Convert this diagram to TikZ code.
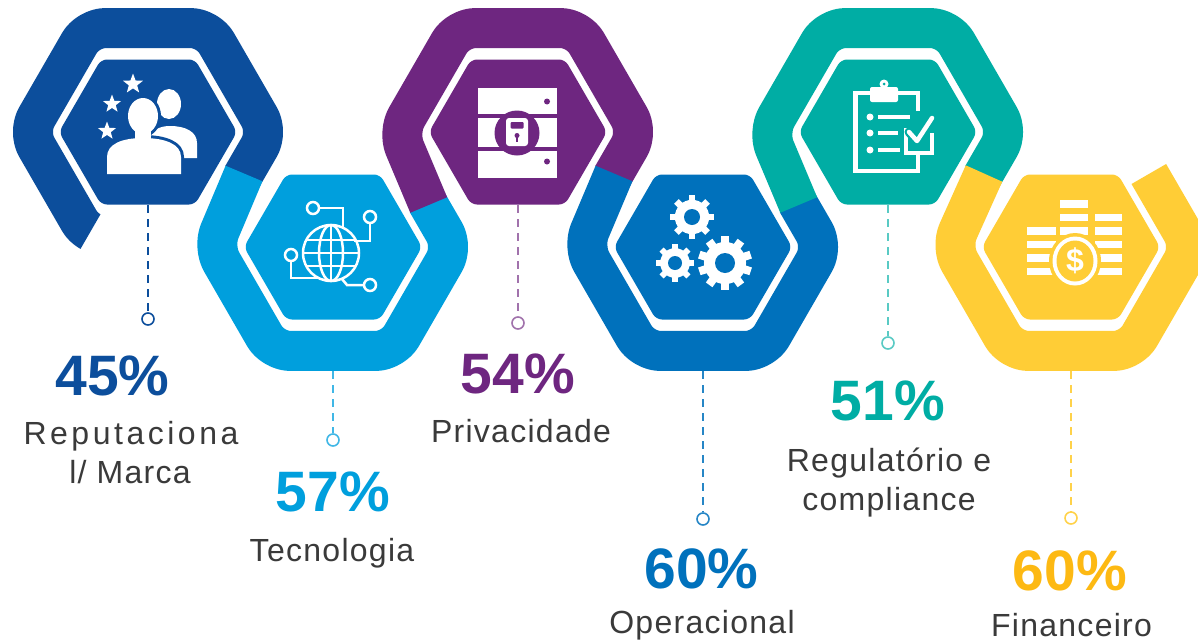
\documentclass[tikz,border=0pt]{standalone}
\usepackage{fontspec}
\setmainfont{Liberation Sans}
\usetikzlibrary{calc,shapes.geometric}
\definecolor{cA}{HTML}{0C4E9C}
\definecolor{cB}{HTML}{009FDD}
\definecolor{cC}{HTML}{6E2680}
\definecolor{cD}{HTML}{0071BC}
\definecolor{cE}{HTML}{00ADA4}
\definecolor{cF}{HTML}{FFCD36}
\definecolor{cFt}{HTML}{FDB913}
\definecolor{txt}{HTML}{3A3A3A}
\newcommand\innerhex[2]{\fill[#2,rounded corners=6pt] ($(#1)+(89,0)$) -- ($(#1)+(47,72.5)$) -- ($(#1)+(-47,72.5)$) -- ($(#1)+(-89,0)$) -- ($(#1)+(-47,-72.5)$) -- ($(#1)+(47,-72.5)$) -- cycle;}
\newcommand\mygear[5]{%
  \fill[white] (#1) circle ({0.78*#2});
  \foreach \k in {1,...,#4}{\fill[white, rotate around={360/#4*\k:(#1)}] ($(#1)+({-0.15*#2},{-#2})$) rectangle ($(#1)+({0.15*#2},0)$);}
  \fill[#5] (#1) circle (#3);}
\begin{document}
\begin{tikzpicture}[x=1pt,y=-1pt,
  band/.style={line width=40pt, line cap=butt, line join=round, rounded corners=17pt},
  dotc/.style={circle, draw=#1, fill=white, line width=1.6pt, minimum size=12pt, inner sep=0pt},
  lead/.style={draw=#1, line width=1.8pt, dash pattern=on 8pt off 6pt},
  pct/.style={text=#1, font=\bfseries\fontsize{57}{60}\selectfont, anchor=base, inner sep=0pt},
  lbl/.style={text=txt, font=\fontsize{32}{38}\selectfont\addfontfeature{LetterSpace=4}, anchor=base, inner sep=0pt},
  starn/.style={star, star points=5, star point ratio=2.4, fill=white, inner sep=0pt, minimum size=#1},
]
\fill[white] (0,0) rectangle (1198,643);
\useasboundingbox (0,0) rectangle (1198,643);

\coordinate (C1) at (148,132);
\coordinate (C2) at (333,247);
\coordinate (C3) at (518,132);
\coordinate (C4) at (703,247);
\coordinate (C5) at (888,132);
\coordinate (C6) at (1071,247);
% joints between neighbouring rings
\coordinate (J1) at ($(C1)+(96,41.5)$);
\coordinate (J2) at ($(C2)+(95.7,-42)$);
\coordinate (J3) at ($(C3)+(96,41.5)$);
\coordinate (J4) at ($(C4)+(95.7,-42)$);
\coordinate (J5) at ($(C5)+(96,41.5)$);
\coordinate (E6) at ($(C6)+(77.8,-73)$);

% ---- rings
\begin{scope}
\clip (C1) -- ($(C1)+(120:600)$) -- ($(C1)+(180:600)$) -- ($(C1)+(240:600)$) -- ($(C1)+(300:600)$) -- ($(C1)+(0:600)$) -- ($(C1)+(60:600)$) -- cycle;
\draw[band, cA] ($(C1)+(94.5,44.1)$) -- ($(C1)+(0:120)$) -- ($(C1)+(300:120)$) -- ($(C1)+(240:120)$) -- ($(C1)+(180:120)$) -- ($(C1)+(120:120)$) -- ($(C1)+(-20,103.9)$);
\end{scope}
\draw[band, cB] (J1) -- ($(C2)+(180:120)$) -- ($(C2)+(120:120)$) -- ($(C2)+(60:120)$) -- ($(C2)+(0:120)$) -- ($(C2)+(94.2,-44.6)$);
\draw[band, cC] (J2) -- ($(C3)+(180:120)$) -- ($(C3)+(240:120)$) -- ($(C3)+(300:120)$) -- ($(C3)+(0:120)$) -- ($(C3)+(94.5,44.1)$);
\draw[band, cD] (J3) -- ($(C4)+(180:120)$) -- ($(C4)+(120:120)$) -- ($(C4)+(60:120)$) -- ($(C4)+(0:120)$) -- ($(C4)+(94.2,-44.6)$);
\draw[band, cE] (J4) -- ($(C5)+(180:120)$) -- ($(C5)+(240:120)$) -- ($(C5)+(300:120)$) -- ($(C5)+(0:120)$) -- ($(C5)+(94.5,44.1)$);
\draw[band, cF] (J5) -- ($(C6)+(180:120)$) -- ($(C6)+(120:120)$) -- ($(C6)+(60:120)$) -- ($(C6)+(0:120)$) -- (E6);

% ---- inner hexagons
\innerhex{C1}{cA}
\innerhex{C2}{cB}
\innerhex{C3}{cC}
\innerhex{C4}{cD}
\innerhex{C5}{cE}
\innerhex{C6}{cF}

% ---- icon 1: people and stars
\node[starn=21pt] (sa) at (133,84) {};
\node[starn=19pt] (sb) at (112,104) {};
\node[starn=19pt] (sc) at (107,131) {};
\fill[white] (169,104) ellipse (12 and 15);
\fill[white] (150,158) -- (150,141) .. controls (150,130) and (160,126) .. (170,126) .. controls (186,126) and (197,132) .. (197,143) -- (197,158) -- cycle;
\draw[cA, line width=6pt] (143,116) ellipse (15 and 18);
\draw[cA, line width=6pt] (107,174) -- (107,157) .. controls (107,144) and (122,138) .. (143,138) .. controls (165,138) and (181,144) .. (181,157) -- (181,174);
\fill[white] (143,116) ellipse (15 and 18);
\fill[white] (107,174) -- (107,157) .. controls (107,144) and (122,138) .. (143,138) .. controls (165,138) and (181,144) .. (181,157) -- (181,174) -- cycle;
\fill[white] (135,128) rectangle (151,140);

% ---- icon 2: globe with circuit
\begin{scope}[white, line width=2.5pt]
\draw (331,253) circle (28);
\draw (331,253) ellipse (12 and 28);
\draw (331,225) -- (331,281);
\draw (303,253) -- (359,253);
\draw (307,240) -- (355,240);
\draw (307,266) -- (355,266);
\draw (319,208) -- (343,208) -- (343,227);
\draw (370,223) -- (370,241) -- (354,241);
\draw (291,261) -- (291,278) -- (318,278);
\draw (364,285) -- (347,285) -- (342,279);
\filldraw[fill=cB] (313,208) circle (6);
\filldraw[fill=cB] (370,217) circle (6);
\filldraw[fill=cB] (291,255) circle (6);
\filldraw[fill=cB] (370,285) circle (6);
\end{scope}

% ---- icon 3: server with lock
\fill[white] (478,88) rectangle (557,178);
\fill[cC] (478,114) rectangle (557,118);
\fill[cC] (478,147) rectangle (557,151);
\fill[cC] (547,101.5) circle (3);
\fill[cC] (547,161.5) circle (3);
\fill[cC] (517,133) circle (22.5);
\fill[white, rounded corners=3pt] (506,118) rectangle (528,146);
\fill[cC, rounded corners=1pt] (510.5,122) rectangle (523.5,128.5);
\fill[cC] (517,135.5) circle (2.5);
\fill[cC] (515.8,135.5) rectangle (518.2,142);

% ---- icon 4: gears
\mygear{692,217}{22}{8}{8}{cD}
\mygear{675,263}{19}{7}{8}{cD}
\mygear{725,263}{27}{10}{10}{cD}

% ---- icon 5: clipboard
\draw[white, line width=4.5pt] (918,111) -- (918,93) -- (855.5,93) -- (855.5,171) -- (918,171) -- (918,155);
\fill[white, rounded corners=2pt] (870,87) rectangle (898,102);
\fill[white] (884,84) circle (4.5);
\fill[cE] (884,84) circle (1.5);
\foreach \yy in {117,133,150} \fill[white] (870,\yy) circle (3.5);
\draw[white, line width=4pt] (878,117) -- (910,117);
\draw[white, line width=4pt] (878,133) -- (898,133);
\draw[white, line width=4pt] (878,150) -- (900,150);
\draw[white, line width=4pt] (906,128) -- (906,153) -- (932,153) -- (932,133);
\draw[cE, line width=9pt, line cap=round, line join=round] (909,132) -- (917,141) -- (932,118);
\draw[white, line width=4.5pt, line cap=round, line join=round] (909,132) -- (917,141) -- (932,118);

% ---- icon 6: coins
\foreach \yy in {227,240.5,254,267.5} \fill[white] (1027,\yy) rectangle (1056,\yy+7.5);
\foreach \yy in {200,213.5,227,240.5,254,267.5} \fill[white] (1060,\yy) rectangle (1088,\yy+7.5);
\foreach \yy in {213.5,227,240.5,254,267.5} \fill[white] (1095,\yy) rectangle (1122,\yy+7.5);
\fill[cF] (1075,261) ellipse (26 and 28);
\fill[white] (1075,261) ellipse (22.5 and 24.5);
\fill[cF] (1075,261) ellipse (18.5 and 20.5);
\node[text=white, font=\bfseries\fontsize{32}{32}\selectfont, inner sep=0pt] (dol) at (1075,261) {\$};

% ---- leaders
\coordinate (t1) at (148,205);
\coordinate (t2) at (333,371);
\coordinate (t3) at (518,205);
\coordinate (t4) at (703,371);
\coordinate (t5) at (888,205);
\coordinate (t6) at (1071,371);
\node[dotc=cA] (d1) at (148,319) {};
\node[dotc=cB!75] (d2) at (333,440) {};
\node[dotc=cC!65] (d3) at (518,323) {};
\node[dotc=cD!85] (d4) at (703,519) {};
\node[dotc=cE!65] (d5) at (888,343) {};
\node[dotc=cF!90] (d6) at (1071,518) {};
\draw[lead=cA] (t1) -- (d1);
\draw[lead=cB!75] (t2) -- (d2);
\draw[lead=cC!65] (t3) -- (d3);
\draw[lead=cD!85] (t4) -- (d4);
\draw[lead=cE!65] (t5) -- (d5);
\draw[lead=cF!90] (t6) -- (d6);

% ---- texts
\node[pct=cA] (p1) at (112.5,395) {45\%};
\node[lbl, font=\fontsize{32}{38}\selectfont\addfontfeature{LetterSpace=11}] (l1a) at (131,444) {Reputaciona};
\node[lbl] (l1b) at (130,483) {l/ Marca};
\node[pct=cB] (p2) at (333,511) {57\%};
\node[lbl] (l2) at (332,561) {Tecnologia};
\node[pct=cC] (p3) at (518,393) {54\%};
\node[lbl] (l3) at (521,442) {Privacidade};
\node[pct=cD] (p4) at (701.5,588) {60\%};
\node[lbl] (l4) at (702,633) {Operacional};
\node[pct=cE] (p5) at (888,420) {51\%};
\node[lbl] (l5a) at (889,471.5) {Regulatório e};
\node[lbl] (l5b) at (889,510) {compliance};
\node[pct=cFt] (p6) at (1070,590) {60\%};
\node[lbl] (l6) at (1071.5,636.5) {Financeiro};
\end{tikzpicture}
\end{document}
